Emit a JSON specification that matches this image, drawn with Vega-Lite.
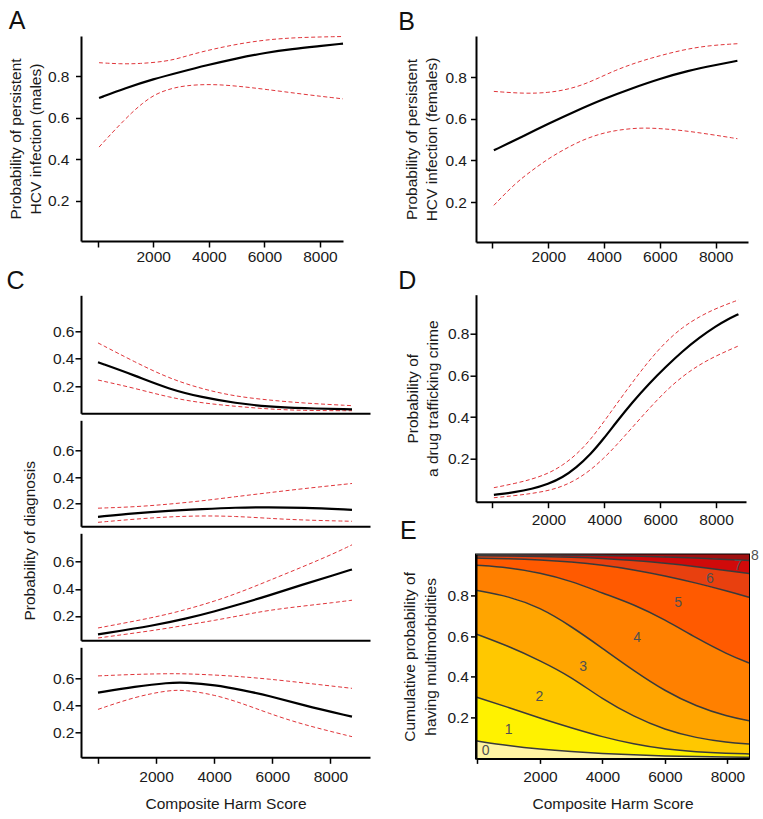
{
"$schema": "https://vega.github.io/schema/vega-lite/v6.json",
"padding": {"left": 6, "top": 8, "right": 4, "bottom": 4},
"config": {
  "font": "Liberation Sans",
  "view": {"stroke": null},
  "axis": {"grid": false, "domainColor": "#000", "domainWidth": 2, "tickColor": "#000", "tickWidth": 1.5, "tickSize": 5.5, "labelFontSize": 15.5, "labelColor": "#1a1a1a", "titleFontSize": 15.5, "titleFontWeight": "normal", "titleColor": "#1a1a1a", "labelFont": "Liberation Sans", "titleFont": "Liberation Sans", "titleLineHeight": 20},
  "title": {"fontSize": 25, "fontWeight": "normal", "anchor": "start", "font": "Liberation Sans", "color": "#111"},
  "text": {"font": "Liberation Sans"}
},
"datasets": {
  "curves": [
    {"p":"A","s":"m","x":50,"y":0.694},{"p":"A","s":"m","x":1000,"y":0.742},{"p":"A","s":"m","x":2000,"y":0.785},{"p":"A","s":"m","x":3000,"y":0.82},{"p":"A","s":"m","x":3900,"y":0.851},{"p":"A","s":"m","x":5000,"y":0.885},{"p":"A","s":"m","x":6050,"y":0.912},{"p":"A","s":"m","x":7000,"y":0.93},{"p":"A","s":"m","x":8000,"y":0.944},{"p":"A","s":"m","x":8830,"y":0.956},
    {"p":"A","s":"u","x":50,"y":0.864},{"p":"A","s":"u","x":800,"y":0.858},{"p":"A","s":"u","x":1500,"y":0.859},{"p":"A","s":"u","x":2450,"y":0.87},{"p":"A","s":"u","x":3000,"y":0.888},{"p":"A","s":"u","x":3650,"y":0.914},{"p":"A","s":"u","x":4850,"y":0.95},{"p":"A","s":"u","x":6050,"y":0.975},{"p":"A","s":"u","x":7250,"y":0.986},{"p":"A","s":"u","x":8830,"y":0.99},
    {"p":"A","s":"l","x":50,"y":0.458},{"p":"A","s":"l","x":650,"y":0.546},{"p":"A","s":"l","x":1250,"y":0.627},{"p":"A","s":"l","x":1600,"y":0.667},{"p":"A","s":"l","x":2000,"y":0.707},{"p":"A","s":"l","x":2500,"y":0.735},{"p":"A","s":"l","x":3150,"y":0.755},{"p":"A","s":"l","x":4100,"y":0.761},{"p":"A","s":"l","x":5000,"y":0.752},{"p":"A","s":"l","x":6050,"y":0.736},{"p":"A","s":"l","x":7400,"y":0.712},{"p":"A","s":"l","x":8830,"y":0.69},
    {"p":"B","s":"m","x":50,"y":0.448},{"p":"B","s":"m","x":1050,"y":0.512},{"p":"B","s":"m","x":2000,"y":0.576},{"p":"B","s":"m","x":3000,"y":0.638},{"p":"B","s":"m","x":4000,"y":0.696},{"p":"B","s":"m","x":5000,"y":0.746},{"p":"B","s":"m","x":6000,"y":0.792},{"p":"B","s":"m","x":7000,"y":0.83},{"p":"B","s":"m","x":8000,"y":0.858},{"p":"B","s":"m","x":8780,"y":0.878},
    {"p":"B","s":"u","x":50,"y":0.731},{"p":"B","s":"u","x":1180,"y":0.72},{"p":"B","s":"u","x":2000,"y":0.725},{"p":"B","s":"u","x":2600,"y":0.738},{"p":"B","s":"u","x":3200,"y":0.76},{"p":"B","s":"u","x":3800,"y":0.795},{"p":"B","s":"u","x":4400,"y":0.832},{"p":"B","s":"u","x":5000,"y":0.862},{"p":"B","s":"u","x":5600,"y":0.888},{"p":"B","s":"u","x":6800,"y":0.931},{"p":"B","s":"u","x":7800,"y":0.952},{"p":"B","s":"u","x":8780,"y":0.96},
    {"p":"B","s":"l","x":50,"y":0.184},{"p":"B","s":"l","x":800,"y":0.288},{"p":"B","s":"l","x":1400,"y":0.35},{"p":"B","s":"l","x":2000,"y":0.408},{"p":"B","s":"l","x":2600,"y":0.455},{"p":"B","s":"l","x":3200,"y":0.496},{"p":"B","s":"l","x":3800,"y":0.525},{"p":"B","s":"l","x":4400,"y":0.544},{"p":"B","s":"l","x":5250,"y":0.557},{"p":"B","s":"l","x":6000,"y":0.553},{"p":"B","s":"l","x":6800,"y":0.544},{"p":"B","s":"l","x":7800,"y":0.525},{"p":"B","s":"l","x":8780,"y":0.504},
    {"p":"C1","s":"m","x":0,"y":0.374},{"p":"C1","s":"m","x":1285,"y":0.276},{"p":"C1","s":"m","x":2433,"y":0.178},{"p":"C1","s":"m","x":3580,"y":0.117},{"p":"C1","s":"m","x":4728,"y":0.075},{"p":"C1","s":"m","x":5875,"y":0.048},{"p":"C1","s":"m","x":7022,"y":0.037},{"p":"C1","s":"m","x":8743,"y":0.029},
    {"p":"C1","s":"u","x":0,"y":0.516},{"p":"C1","s":"u","x":1285,"y":0.374},{"p":"C1","s":"u","x":2433,"y":0.257},{"p":"C1","s":"u","x":3580,"y":0.178},{"p":"C1","s":"u","x":4728,"y":0.124},{"p":"C1","s":"u","x":5875,"y":0.097},{"p":"C1","s":"u","x":7022,"y":0.075},{"p":"C1","s":"u","x":8743,"y":0.056},
    {"p":"C1","s":"l","x":0,"y":0.244},{"p":"C1","s":"l","x":1285,"y":0.183},{"p":"C1","s":"l","x":2433,"y":0.117},{"p":"C1","s":"l","x":3580,"y":0.075},{"p":"C1","s":"l","x":4728,"y":0.051},{"p":"C1","s":"l","x":5875,"y":0.031},{"p":"C1","s":"l","x":7022,"y":0.02},{"p":"C1","s":"l","x":8743,"y":0.019},
    {"p":"C2","s":"m","x":0,"y":0.1},{"p":"C2","s":"m","x":1285,"y":0.128},{"p":"C2","s":"m","x":2433,"y":0.145},{"p":"C2","s":"m","x":3580,"y":0.158},{"p":"C2","s":"m","x":4728,"y":0.17},{"p":"C2","s":"m","x":5875,"y":0.172},{"p":"C2","s":"m","x":7022,"y":0.17},{"p":"C2","s":"m","x":8743,"y":0.153},
    {"p":"C2","s":"u","x":0,"y":0.165},{"p":"C2","s":"u","x":1285,"y":0.175},{"p":"C2","s":"u","x":2433,"y":0.195},{"p":"C2","s":"u","x":3580,"y":0.22},{"p":"C2","s":"u","x":4728,"y":0.252},{"p":"C2","s":"u","x":5875,"y":0.282},{"p":"C2","s":"u","x":7022,"y":0.312},{"p":"C2","s":"u","x":8743,"y":0.352},
    {"p":"C2","s":"l","x":0,"y":0.058},{"p":"C2","s":"l","x":1285,"y":0.083},{"p":"C2","s":"l","x":2433,"y":0.1},{"p":"C2","s":"l","x":3580,"y":0.108},{"p":"C2","s":"l","x":4728,"y":0.104},{"p":"C2","s":"l","x":5875,"y":0.088},{"p":"C2","s":"l","x":7022,"y":0.075},{"p":"C2","s":"l","x":8743,"y":0.066},
    {"p":"C3","s":"m","x":0,"y":0.064},{"p":"C3","s":"m","x":1973,"y":0.131},{"p":"C3","s":"m","x":3006,"y":0.178},{"p":"C3","s":"m","x":4039,"y":0.235},{"p":"C3","s":"m","x":4957,"y":0.291},{"p":"C3","s":"m","x":5875,"y":0.35},{"p":"C3","s":"m","x":7022,"y":0.43},{"p":"C3","s":"m","x":8170,"y":0.505},{"p":"C3","s":"m","x":8743,"y":0.543},
    {"p":"C3","s":"u","x":0,"y":0.111},{"p":"C3","s":"u","x":1973,"y":0.19},{"p":"C3","s":"u","x":3006,"y":0.245},{"p":"C3","s":"u","x":4039,"y":0.31},{"p":"C3","s":"u","x":4957,"y":0.38},{"p":"C3","s":"u","x":5875,"y":0.46},{"p":"C3","s":"u","x":7022,"y":0.56},{"p":"C3","s":"u","x":8170,"y":0.665},{"p":"C3","s":"u","x":8743,"y":0.725},
    {"p":"C3","s":"l","x":0,"y":0.037},{"p":"C3","s":"l","x":1973,"y":0.094},{"p":"C3","s":"l","x":3006,"y":0.131},{"p":"C3","s":"l","x":4039,"y":0.168},{"p":"C3","s":"l","x":4957,"y":0.205},{"p":"C3","s":"l","x":5875,"y":0.242},{"p":"C3","s":"l","x":7022,"y":0.272},{"p":"C3","s":"l","x":8170,"y":0.3},{"p":"C3","s":"l","x":8743,"y":0.316},
    {"p":"C4","s":"m","x":0,"y":0.494},{"p":"C4","s":"m","x":1285,"y":0.539},{"p":"C4","s":"m","x":2433,"y":0.568},{"p":"C4","s":"m","x":3006,"y":0.57},{"p":"C4","s":"m","x":4039,"y":0.551},{"p":"C4","s":"m","x":4957,"y":0.514},{"p":"C4","s":"m","x":5875,"y":0.472},{"p":"C4","s":"m","x":7022,"y":0.403},{"p":"C4","s":"m","x":8743,"y":0.316},
    {"p":"C4","s":"u","x":0,"y":0.618},{"p":"C4","s":"u","x":1285,"y":0.63},{"p":"C4","s":"u","x":2433,"y":0.635},{"p":"C4","s":"u","x":3006,"y":0.634},{"p":"C4","s":"u","x":4039,"y":0.625},{"p":"C4","s":"u","x":4957,"y":0.612},{"p":"C4","s":"u","x":5875,"y":0.595},{"p":"C4","s":"u","x":7022,"y":0.568},{"p":"C4","s":"u","x":8743,"y":0.526},
    {"p":"C4","s":"l","x":0,"y":0.37},{"p":"C4","s":"l","x":1285,"y":0.464},{"p":"C4","s":"l","x":2433,"y":0.512},{"p":"C4","s":"l","x":3006,"y":0.514},{"p":"C4","s":"l","x":4039,"y":0.477},{"p":"C4","s":"l","x":4957,"y":0.415},{"p":"C4","s":"l","x":5875,"y":0.341},{"p":"C4","s":"l","x":7022,"y":0.259},{"p":"C4","s":"l","x":8743,"y":0.168},
    {"p":"D","s":"m","x":50,"y":0.028},{"p":"D","s":"m","x":800,"y":0.04},{"p":"D","s":"m","x":1400,"y":0.055},{"p":"D","s":"m","x":2000,"y":0.08},{"p":"D","s":"m","x":2500,"y":0.11},{"p":"D","s":"m","x":3000,"y":0.158},{"p":"D","s":"m","x":3500,"y":0.22},{"p":"D","s":"m","x":4000,"y":0.3},{"p":"D","s":"m","x":4400,"y":0.37},{"p":"D","s":"m","x":5000,"y":0.47},{"p":"D","s":"m","x":5600,"y":0.56},{"p":"D","s":"m","x":6200,"y":0.64},{"p":"D","s":"m","x":6800,"y":0.715},{"p":"D","s":"m","x":7400,"y":0.78},{"p":"D","s":"m","x":8000,"y":0.835},{"p":"D","s":"m","x":8400,"y":0.866},{"p":"D","s":"m","x":8800,"y":0.892},
    {"p":"D","s":"u","x":50,"y":0.062},{"p":"D","s":"u","x":800,"y":0.082},{"p":"D","s":"u","x":1400,"y":0.102},{"p":"D","s":"u","x":2000,"y":0.13},{"p":"D","s":"u","x":2500,"y":0.168},{"p":"D","s":"u","x":3000,"y":0.22},{"p":"D","s":"u","x":3500,"y":0.29},{"p":"D","s":"u","x":4000,"y":0.38},{"p":"D","s":"u","x":4400,"y":0.455},{"p":"D","s":"u","x":5000,"y":0.565},{"p":"D","s":"u","x":5600,"y":0.67},{"p":"D","s":"u","x":6200,"y":0.76},{"p":"D","s":"u","x":6800,"y":0.83},{"p":"D","s":"u","x":7400,"y":0.88},{"p":"D","s":"u","x":8000,"y":0.92},{"p":"D","s":"u","x":8800,"y":0.96},
    {"p":"D","s":"l","x":50,"y":0.014},{"p":"D","s":"l","x":800,"y":0.024},{"p":"D","s":"l","x":1400,"y":0.034},{"p":"D","s":"l","x":2000,"y":0.048},{"p":"D","s":"l","x":2500,"y":0.068},{"p":"D","s":"l","x":3000,"y":0.1},{"p":"D","s":"l","x":3500,"y":0.145},{"p":"D","s":"l","x":4000,"y":0.205},{"p":"D","s":"l","x":4400,"y":0.26},{"p":"D","s":"l","x":5000,"y":0.35},{"p":"D","s":"l","x":5600,"y":0.44},{"p":"D","s":"l","x":6200,"y":0.525},{"p":"D","s":"l","x":6800,"y":0.595},{"p":"D","s":"l","x":7400,"y":0.65},{"p":"D","s":"l","x":8000,"y":0.693},{"p":"D","s":"l","x":8800,"y":0.74}
  ],
  "bands": [
    {"k":0,"x":-45,"a":0,"b":0.086},{"k":0,"x":1000,"a":0,"b":0.062},{"k":0,"x":2000,"a":0,"b":0.045},{"k":0,"x":3000,"a":0,"b":0.033},{"k":0,"x":4000,"a":0,"b":0.024},{"k":0,"x":5000,"a":0,"b":0.017},{"k":0,"x":6000,"a":0,"b":0.012},{"k":0,"x":7000,"a":0,"b":0.009},{"k":0,"x":8000,"a":0,"b":0.007},{"k":0,"x":8690,"a":0,"b":0.006},
    {"k":1,"x":-45,"a":0.086,"b":0.301},{"k":1,"x":1000,"a":0.062,"b":0.25},{"k":1,"x":2000,"a":0.045,"b":0.197},{"k":1,"x":3000,"a":0.033,"b":0.15},{"k":1,"x":4000,"a":0.024,"b":0.105},{"k":1,"x":5000,"a":0.017,"b":0.07},{"k":1,"x":6000,"a":0.012,"b":0.045},{"k":1,"x":7000,"a":0.009,"b":0.032},{"k":1,"x":8000,"a":0.007,"b":0.025},{"k":1,"x":8690,"a":0.006,"b":0.022},
    {"k":2,"x":-45,"a":0.301,"b":0.61},{"k":2,"x":1000,"a":0.25,"b":0.55},{"k":2,"x":2000,"a":0.197,"b":0.48},{"k":2,"x":3000,"a":0.15,"b":0.4},{"k":2,"x":4000,"a":0.105,"b":0.29},{"k":2,"x":5000,"a":0.07,"b":0.205},{"k":2,"x":6000,"a":0.045,"b":0.14},{"k":2,"x":7000,"a":0.032,"b":0.1},{"k":2,"x":8000,"a":0.025,"b":0.078},{"k":2,"x":8690,"a":0.022,"b":0.07},
    {"k":3,"x":-45,"a":0.61,"b":0.824},{"k":3,"x":1000,"a":0.55,"b":0.795},{"k":3,"x":2000,"a":0.48,"b":0.74},{"k":3,"x":3000,"a":0.4,"b":0.648},{"k":3,"x":4000,"a":0.29,"b":0.54},{"k":3,"x":5000,"a":0.205,"b":0.43},{"k":3,"x":6000,"a":0.14,"b":0.33},{"k":3,"x":7000,"a":0.1,"b":0.255},{"k":3,"x":8000,"a":0.078,"b":0.205},{"k":3,"x":8690,"a":0.07,"b":0.185},
    {"k":4,"x":-45,"a":0.824,"b":0.947},{"k":4,"x":1000,"a":0.795,"b":0.935},{"k":4,"x":2000,"a":0.74,"b":0.91},{"k":4,"x":3000,"a":0.648,"b":0.87},{"k":4,"x":4000,"a":0.54,"b":0.81},{"k":4,"x":5000,"a":0.43,"b":0.755},{"k":4,"x":6000,"a":0.33,"b":0.68},{"k":4,"x":7000,"a":0.255,"b":0.59},{"k":4,"x":8000,"a":0.205,"b":0.51},{"k":4,"x":8690,"a":0.185,"b":0.468},
    {"k":5,"x":-45,"a":0.947,"b":0.982},{"k":5,"x":1000,"a":0.935,"b":0.979},{"k":5,"x":2000,"a":0.91,"b":0.973},{"k":5,"x":3000,"a":0.87,"b":0.963},{"k":5,"x":4000,"a":0.81,"b":0.948},{"k":5,"x":5000,"a":0.755,"b":0.925},{"k":5,"x":6000,"a":0.68,"b":0.895},{"k":5,"x":7000,"a":0.59,"b":0.86},{"k":5,"x":8000,"a":0.51,"b":0.82},{"k":5,"x":8690,"a":0.468,"b":0.79},
    {"k":6,"x":-45,"a":0.982,"b":0.993},{"k":6,"x":1000,"a":0.979,"b":0.992},{"k":6,"x":2000,"a":0.973,"b":0.99},{"k":6,"x":3000,"a":0.963,"b":0.986},{"k":6,"x":4000,"a":0.948,"b":0.98},{"k":6,"x":5000,"a":0.925,"b":0.97},{"k":6,"x":6000,"a":0.895,"b":0.957},{"k":6,"x":7000,"a":0.86,"b":0.94},{"k":6,"x":8000,"a":0.82,"b":0.92},{"k":6,"x":8690,"a":0.79,"b":0.906},
    {"k":7,"x":-45,"a":0.993,"b":0.9985},{"k":7,"x":1000,"a":0.992,"b":0.998},{"k":7,"x":2000,"a":0.99,"b":0.997},{"k":7,"x":3000,"a":0.986,"b":0.996},{"k":7,"x":4000,"a":0.98,"b":0.994},{"k":7,"x":5000,"a":0.97,"b":0.992},{"k":7,"x":6000,"a":0.957,"b":0.988},{"k":7,"x":7000,"a":0.94,"b":0.982},{"k":7,"x":8000,"a":0.92,"b":0.975},{"k":7,"x":8690,"a":0.906,"b":0.97},
    {"k":8,"x":-45,"a":0.9985,"b":1},{"k":8,"x":1000,"a":0.998,"b":1},{"k":8,"x":2000,"a":0.997,"b":1},{"k":8,"x":3000,"a":0.996,"b":1},{"k":8,"x":4000,"a":0.994,"b":1},{"k":8,"x":5000,"a":0.992,"b":1},{"k":8,"x":6000,"a":0.988,"b":1},{"k":8,"x":7000,"a":0.982,"b":1},{"k":8,"x":8000,"a":0.975,"b":1},{"k":8,"x":8690,"a":0.97,"b":1}
  ],
  "elab": [
    {"t":"0","x":260,"y":0.035},{"t":"1","x":1000,"y":0.141},{"t":"2","x":1980,"y":0.3},{"t":"3","x":3385,"y":0.449},{"t":"4","x":5114,"y":0.592},{"t":"5","x":6426,"y":0.764},{"t":"6","x":7440,"y":0.878},{"t":"7","x":8346,"y":0.944},{"t":"8","x":8880,"y":0.991}
  ]
},
"spacing": 28,
"hconcat": [
  {
    "vconcat": [
      {
        "title": {"text": "A", "offset": 0.75, "dx": 0.3},
        "width": 262, "height": 205,
        "data": {"name": "curves"},
        "transform": [{"filter": "datum.p == 'A'"}],
        "encoding": {
          "x": {"field": "x", "type": "quantitative", "scale": {"domain": [-600, 8830], "nice": false, "zero": false}, "axis": {"values": [0, 2000, 4000, 6000, 8000], "labelExpr": "datum.value == 0 ? '' : format(datum.value, 'd')", "title": null, "tickSize": 6, "labelPadding": 2}},
          "y": {"field": "y", "type": "quantitative", "scale": {"domain": [0.006, 0.9925], "nice": false, "zero": false}, "axis": {"values": [0.2, 0.4, 0.6, 0.8], "format": ".1f", "title": ["Probability of persistent", "HCV infection (males)"], "labelPadding": 6.5, "titlePadding": 4}}
        },
        "layer": [
          {"transform": [{"filter": "datum.s != 'm'"}], "mark": {"type": "line", "color": "#e0353a", "strokeWidth": 1, "strokeDash": [4, 2.5], "interpolate": "basis"}, "encoding": {"detail": {"field": "s"}}},
          {"transform": [{"filter": "datum.s == 'm'"}], "mark": {"type": "line", "color": "#000", "strokeWidth": 2.2, "interpolate": "basis"}}
        ]
      },
      {
        "title": {"text": "C", "offset": 1, "dx": -16},
        "bounds": "flush",
        "spacing": 7,
        "vconcat": [
          {
            "width": 289, "height": 118,
            "encoding": {
              "x": {"field": "x", "type": "quantitative", "scale": {"domain": [-585, 9363], "nice": false, "zero": false}, "axis": {"ticks": false, "labels": false, "title": null}},
              "y": {"field": "y", "type": "quantitative", "scale": {"domain": [0, 0.865], "nice": false, "zero": false}, "axis": {"values": [0.2, 0.4, 0.6], "format": ".1f", "title": null, "tickSize": 6, "labelPadding": 1}}
            },
            "layer": [
              {"data": {"name": "curves"}, "transform": [{"filter": "datum.p == 'C1' && datum.s != 'm'"}], "mark": {"type": "line", "color": "#e0353a", "strokeWidth": 1, "strokeDash": [4, 2.5], "interpolate": "basis"}, "encoding": {"detail": {"field": "s"}}},
              {"data": {"name": "curves"}, "transform": [{"filter": "datum.p == 'C1' && datum.s == 'm'"}], "mark": {"type": "line", "color": "#000", "strokeWidth": 2.2, "interpolate": "basis"}},
              {"data": {"values": [{}]}, "mark": {"type": "text", "align": "left", "baseline": "alphabetic", "fontSize": 15.5, "color": "#111"}, "encoding": {"x": {"datum": -344}, "y": {"datum": 0.701}, "text": {"value": "Functional Psychosis"}}}
            ]
          },
          {
            "width": 289, "height": 106,
            "encoding": {
              "x": {"field": "x", "type": "quantitative", "scale": {"domain": [-585, 9363], "nice": false, "zero": false}, "axis": {"ticks": false, "labels": false, "title": null}},
              "y": {"field": "y", "type": "quantitative", "scale": {"domain": [0.028, 0.83], "nice": false, "zero": false}, "axis": {"values": [0.2, 0.4, 0.6], "format": ".1f", "title": "Probability of diagnosis", "titleY": 120, "titlePadding": 15, "tickSize": 6, "labelPadding": 1}}
            },
            "layer": [
              {"data": {"name": "curves"}, "transform": [{"filter": "datum.p == 'C2' && datum.s != 'm'"}], "mark": {"type": "line", "color": "#e0353a", "strokeWidth": 1, "strokeDash": [4, 2.5], "interpolate": "basis"}, "encoding": {"detail": {"field": "s"}}},
              {"data": {"name": "curves"}, "transform": [{"filter": "datum.p == 'C2' && datum.s == 'm'"}], "mark": {"type": "line", "color": "#000", "strokeWidth": 2.2, "interpolate": "basis"}},
              {"data": {"values": [{}]}, "mark": {"type": "text", "align": "left", "baseline": "alphabetic", "fontSize": 15.5, "color": "#111"}, "encoding": {"x": {"datum": -344}, "y": {"datum": 0.671}, "text": {"value": "Psychosis Not Otherwise Specified"}}}
            ]
          },
          {
            "width": 289, "height": 107,
            "encoding": {
              "x": {"field": "x", "type": "quantitative", "scale": {"domain": [-585, 9363], "nice": false, "zero": false}, "axis": {"ticks": false, "labels": false, "title": null}},
              "y": {"field": "y", "type": "quantitative", "scale": {"domain": [0.02, 0.81], "nice": false, "zero": false}, "axis": {"values": [0.2, 0.4, 0.6], "format": ".1f", "title": null, "tickSize": 6, "labelPadding": 1}}
            },
            "layer": [
              {"data": {"name": "curves"}, "transform": [{"filter": "datum.p == 'C3' && datum.s != 'm'"}], "mark": {"type": "line", "color": "#e0353a", "strokeWidth": 1, "strokeDash": [4, 2.5], "interpolate": "basis"}, "encoding": {"detail": {"field": "s"}}},
              {"data": {"name": "curves"}, "transform": [{"filter": "datum.p == 'C3' && datum.s == 'm'"}], "mark": {"type": "line", "color": "#000", "strokeWidth": 2.2, "interpolate": "basis"}},
              {"data": {"values": [{}]}, "mark": {"type": "text", "align": "left", "baseline": "alphabetic", "fontSize": 15.5, "color": "#111"}, "encoding": {"x": {"datum": -344}, "y": {"datum": 0.676}, "text": {"value": "Substance-Induced Psychosis"}}}
            ]
          },
          {
            "width": 289, "height": 110,
            "encoding": {
              "x": {"field": "x", "type": "quantitative", "scale": {"domain": [-585, 9363], "nice": false, "zero": false}, "axis": {"values": [0, 2000, 4000, 6000, 8000], "labelExpr": "datum.value == 0 ? '' : format(datum.value, 'd')", "title": "Composite Harm Score", "tickSize": 6, "labelPadding": 6, "titlePadding": 12}},
              "y": {"field": "y", "type": "quantitative", "scale": {"domain": [0.015, 0.83], "nice": false, "zero": false}, "axis": {"values": [0.2, 0.4, 0.6], "format": ".1f", "title": null, "tickSize": 6, "labelPadding": 1}}
            },
            "layer": [
              {"data": {"name": "curves"}, "transform": [{"filter": "datum.p == 'C4' && datum.s != 'm'"}], "mark": {"type": "line", "color": "#e0353a", "strokeWidth": 1, "strokeDash": [4, 2.5], "interpolate": "basis"}, "encoding": {"detail": {"field": "s"}}},
              {"data": {"name": "curves"}, "transform": [{"filter": "datum.p == 'C4' && datum.s == 'm'"}], "mark": {"type": "line", "color": "#000", "strokeWidth": 2.2, "interpolate": "basis"}},
              {"data": {"values": [{}]}, "mark": {"type": "text", "align": "left", "baseline": "alphabetic", "fontSize": 15.5, "color": "#111"}, "encoding": {"x": {"datum": -344}, "y": {"datum": 0.714}, "text": {"value": "No Psychosis"}}}
            ]
          }
        ]
      }
    ],
    "bounds": "flush",
    "spacing": 54.3
  },
  {
    "vconcat": [
      {
        "title": {"text": "B", "offset": 0.75, "dx": -6.6},
        "width": 272, "height": 206,
        "data": {"name": "curves"},
        "transform": [{"filter": "datum.p == 'B'"}],
        "encoding": {
          "x": {"field": "x", "type": "quantitative", "scale": {"domain": [-590, 9160], "nice": false, "zero": false}, "axis": {"values": [0, 2000, 4000, 6000, 8000], "labelExpr": "datum.value == 0 ? '' : format(datum.value, 'd')", "title": null, "tickSize": 6, "labelPadding": 1}},
          "y": {"field": "y", "type": "quantitative", "scale": {"domain": [0.008, 0.997], "nice": false, "zero": false}, "axis": {"values": [0.2, 0.4, 0.6, 0.8], "format": ".1f", "title": ["Probability of persistent", "HCV infection (females)"], "labelPadding": 4, "titlePadding": 5}}
        },
        "layer": [
          {"transform": [{"filter": "datum.s != 'm'"}], "mark": {"type": "line", "color": "#e0353a", "strokeWidth": 1, "strokeDash": [4, 2.5], "interpolate": "basis"}, "encoding": {"detail": {"field": "s"}}},
          {"transform": [{"filter": "datum.s == 'm'"}], "mark": {"type": "line", "color": "#000", "strokeWidth": 2.2, "interpolate": "basis"}}
        ]
      },
      {
        "title": {"text": "D", "offset": 0.75, "dx": -7.6},
        "width": 270, "height": 207,
        "data": {"name": "curves"},
        "transform": [{"filter": "datum.p == 'D'"}],
        "encoding": {
          "x": {"field": "x", "type": "quantitative", "scale": {"domain": [-590, 9070], "nice": false, "zero": false}, "axis": {"values": [0, 2000, 4000, 6000, 8000], "labelExpr": "datum.value == 0 ? '' : format(datum.value, 'd')", "title": null, "tickSize": 6, "labelPadding": 5}},
          "y": {"field": "y", "type": "quantitative", "scale": {"domain": [-0.005, 0.985], "nice": false, "zero": false}, "axis": {"values": [0.2, 0.4, 0.6, 0.8], "format": ".1f", "title": ["Probability of", "a drug trafficking crime"], "tickSize": 6, "labelPadding": 1, "titlePadding": 6.5}}
        },
        "layer": [
          {"transform": [{"filter": "datum.s != 'm'"}], "mark": {"type": "line", "color": "#e0353a", "strokeWidth": 1, "strokeDash": [4, 2.5], "interpolate": "basis"}, "encoding": {"detail": {"field": "s"}}},
          {"transform": [{"filter": "datum.s == 'm'"}], "mark": {"type": "line", "color": "#000", "strokeWidth": 2.2, "interpolate": "basis"}}
        ]
      },
      {
        "title": {"text": "E", "offset": 5.45, "dx": -2.5},
        "width": 273, "height": 204,
        "view": {"stroke": "#000", "strokeWidth": 2},
        "encoding": {
          "x": {"field": "x", "type": "quantitative", "scale": {"domain": [-45, 8690], "nice": false, "zero": false}, "axis": {"values": [0, 2000, 4000, 6000, 8000], "labelExpr": "datum.value == 0 ? '' : format(datum.value, 'd')", "title": "Composite Harm Score", "tickSize": 5, "labelPadding": 6, "titlePadding": 12, "zindex": 1}}
        },
        "layer": [
          {"data": {"name": "bands"}, "mark": {"type": "area", "interpolate": "basis"}, "encoding": {
            "y": {"field": "a", "type": "quantitative", "stack": null, "scale": {"domain": [0, 1], "nice": false, "zero": false}, "axis": {"values": [0.2, 0.4, 0.6, 0.8], "format": ".1f", "title": ["Cumulative probability of", "having multimorbidities"], "labelPadding": 2, "titlePadding": 8, "titleLineHeight": 21.5, "zindex": 1}},
            "y2": {"field": "b"},
            "color": {"field": "k", "type": "nominal", "scale": {"domain": [0, 1, 2, 3, 4, 5, 6, 7, 8], "range": ["#FFF4A3", "#FFF200", "#FFC800", "#FFA500", "#FF8000", "#FF5A00", "#E8400F", "#D00A0A", "#A01010"]}, "legend": null}
          }},
          {"data": {"name": "bands"}, "transform": [{"filter": "datum.k < 8"}], "mark": {"type": "line", "interpolate": "basis", "color": "#3a3a3a", "strokeWidth": 1.5}, "encoding": {"y": {"field": "b", "type": "quantitative"}, "detail": {"field": "k"}}},
          {"data": {"name": "elab"}, "mark": {"type": "text", "fontSize": 14, "color": "#505050"}, "encoding": {"y": {"field": "y", "type": "quantitative"}, "text": {"field": "t"}}}
        ]
      }
    ],
    "bounds": "flush",
    "spacing": 52.7
  }
]
}
